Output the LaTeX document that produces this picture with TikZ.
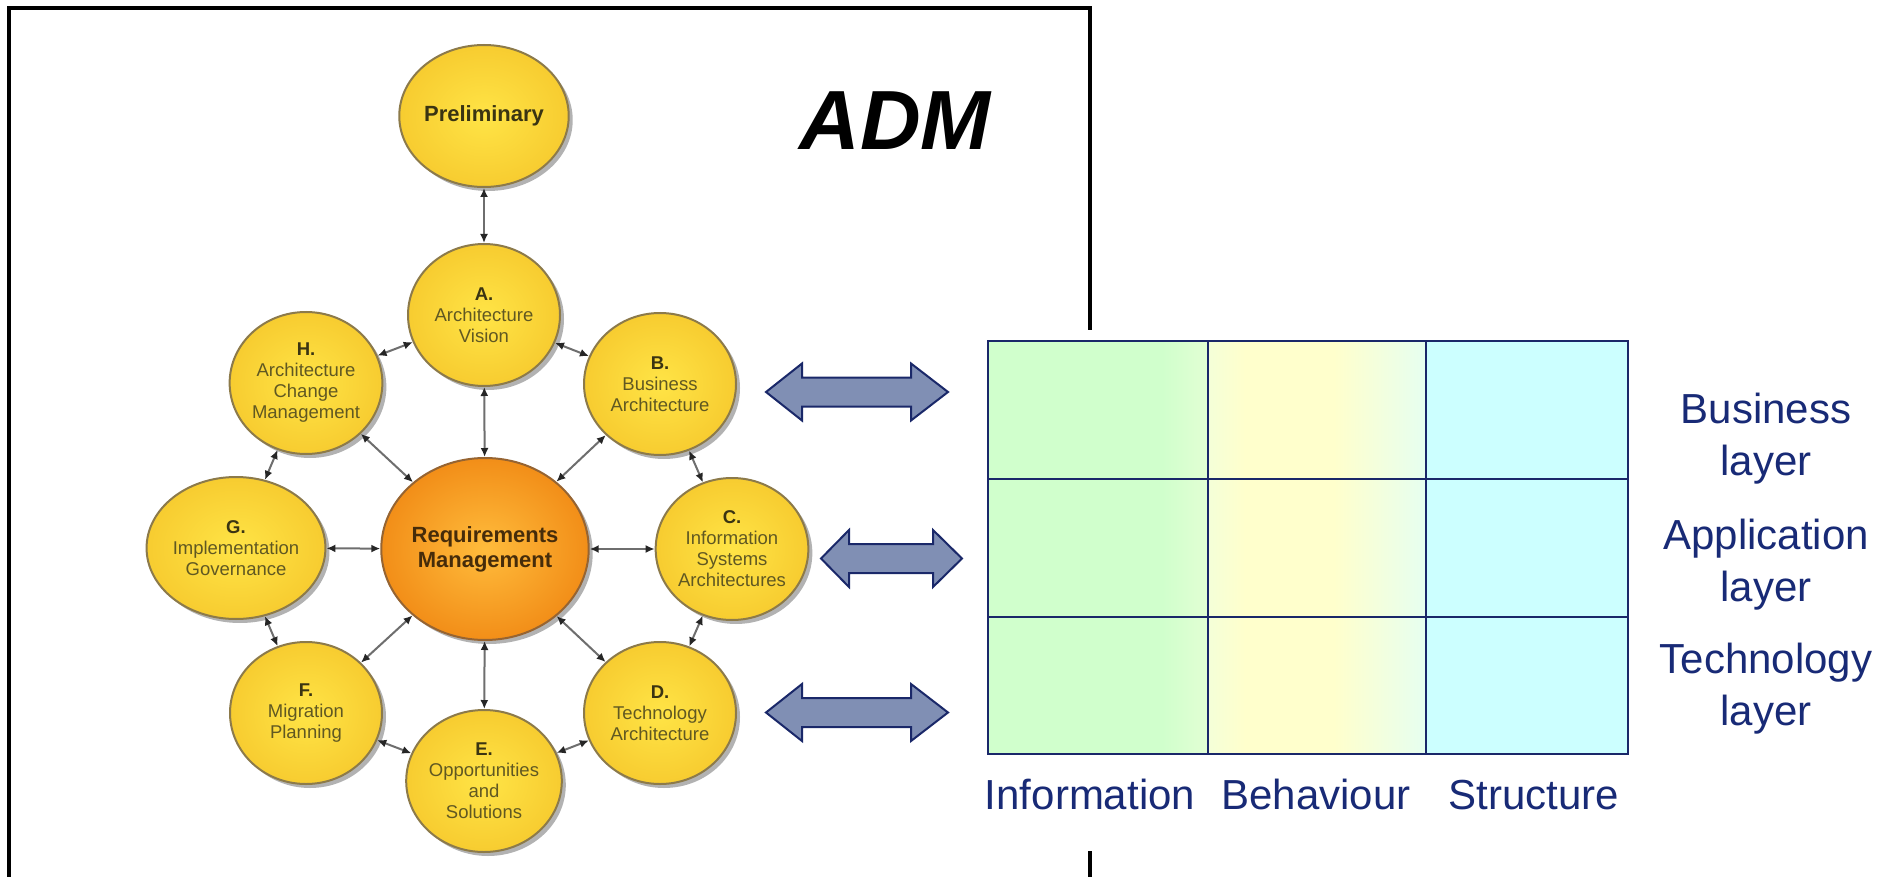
\documentclass[tikz,border=0pt]{standalone}
\usepackage{fontspec}
\setmainfont{Liberation Sans}
\usetikzlibrary{shapes.geometric,arrows.meta,shadows}
\definecolor{navy}{RGB}{24,42,118}
\definecolor{gridnavy}{RGB}{26,40,105}
\definecolor{arrfill}{RGB}{128,143,180}
\definecolor{yIn}{RGB}{255,228,70}
\definecolor{yOut}{RGB}{247,204,48}
\definecolor{yEdge}{RGB}{140,122,74}
\definecolor{oIn}{RGB}{255,188,60}
\definecolor{oOut}{RGB}{242,142,24}
\definecolor{oEdge}{RGB}{150,100,50}
\definecolor{olivetxt}{RGB}{96,88,34}
\definecolor{boldtxt}{RGB}{58,52,18}
\definecolor{rmtxt}{RGB}{70,44,10}
\definecolor{linegray}{RGB}{110,110,110}
\definecolor{cgreen}{RGB}{208,255,204}
\definecolor{cgreenL}{RGB}{226,255,212}
\definecolor{cyellow}{RGB}{255,255,204}
\definecolor{cyelL}{RGB}{244,255,216}
\definecolor{cyelR}{RGB}{230,255,240}
\definecolor{ccyan}{RGB}{204,255,255}
\begin{document}
\begin{tikzpicture}[x=1pt,y=-1pt,
  phase/.style={ellipse, draw=yEdge, line width=2pt, minimum width=152pt, minimum height=142pt,
    inner sep=0pt, inner color=yIn, outer color=yOut, align=center,
    font=\fontsize{18.5}{21}\selectfont, text=olivetxt,
    drop shadow={shadow xshift=4pt, shadow yshift=-4pt, opacity=0.3, fill=black}},
  reqm/.style={phase, draw=oEdge, minimum width=195pt, minimum height=182pt,
    inner color=oIn, outer color=oOut, text=rmtxt, font=\fontsize{22}{25}\selectfont\bfseries},
  conn/.style={draw=linegray, line width=2pt, <->, >={Latex[length=9pt,width=8pt,color=black!85]}},
  blockarr/.style={draw=gridnavy, line width=2pt, fill=arrfill, line join=miter},
  gridline/.style={draw=gridnavy, line width=2.8pt},
  lbl/.style={text=navy, font=\fontsize{42}{50}\selectfont, anchor=base, inner sep=0pt},
  frameline/.style={draw=black, line width=4pt}
]
\useasboundingbox (0,0) rectangle (1892,877);
\fill[white] (0,0) rectangle (1892,877);

% frame
\draw[frameline] (9,877) -- (9,8) -- (1090,8) -- (1090,330);
\draw[frameline] (1090,851) -- (1090,877);

% title
\node[anchor=base, inner sep=0pt, font=\fontsize{84}{90}\selectfont\bfseries\itshape] (adm) at (895,150) {ADM};

% phases
\node[phase, font=\fontsize{22}{25}\selectfont\bfseries, text=boldtxt] (P) at (484,116) {Preliminary};
\node[phase] (A) at (484,315) {\textcolor{boldtxt}{\bfseries A.}\\Architecture\\Vision};
\node[phase] (B) at (660,384) {\textcolor{boldtxt}{\bfseries B.}\\Business\\Architecture};
\node[phase] (C) at (732,549) {\textcolor{boldtxt}{\bfseries C.}\\Information\\Systems\\Architectures};
\node[phase] (D) at (660,713) {\textcolor{boldtxt}{\bfseries D.}\\Technology\\Architecture};
\node[phase] (E) at (484,781) {\textcolor{boldtxt}{\bfseries E.}\\Opportunities\\and\\Solutions};
\node[phase] (F) at (306,713) {\textcolor{boldtxt}{\bfseries F.}\\Migration\\Planning};
\node[phase] (G) at (236,548) {\textcolor{boldtxt}{\bfseries G.}\\Implementation\\Governance};
\node[phase] (H) at (306,383) {\textcolor{boldtxt}{\bfseries H.}\\Architecture\\Change\\Management};
\node[reqm] (R) at (485,549) {Requirements\\Management};

% connectors
\draw[conn] (P) -- (A);
\draw[conn] (A) -- (B);
\draw[conn] (B) -- (C);
\draw[conn] (C) -- (D);
\draw[conn] (D) -- (E);
\draw[conn] (E) -- (F);
\draw[conn] (F) -- (G);
\draw[conn] (G) -- (H);
\draw[conn] (H) -- (A);
\foreach \n in {A,B,C,D,E,F,G,H} { \draw[conn] (R) -- (\n); }

% block double arrows
\draw[blockarr] (766,392) -- (802,363.5) -- (802,377.5) -- (911,377.5) -- (911,363.5) -- (948,392)
  -- (911,420.5) -- (911,406.5) -- (802,406.5) -- (802,420.5) -- cycle;
\draw[blockarr] (821,558.5) -- (849,530) -- (849,544) -- (933,544) -- (933,530) -- (962,558.5)
  -- (933,587) -- (933,573) -- (849,573) -- (849,587) -- cycle;
\draw[blockarr] (766,712.5) -- (802,684) -- (802,698) -- (911,698) -- (911,684) -- (948,712.5)
  -- (911,741) -- (911,727) -- (802,727) -- (802,741) -- cycle;

% grid fills
\fill[cgreen] (988,341) rectangle (1163,754);
\shade[left color=cgreen, right color=cgreenL] (1162,341) rectangle (1208,754);
\shade[left color=cyelL, right color=cyellow] (1208,341) rectangle (1245,754);
\fill[cyellow] (1244,341) rectangle (1335,754);
\shade[left color=cyellow, right color=cyelR] (1334,341) rectangle (1426,754);
\fill[ccyan] (1426,341) rectangle (1628,754);
% grid lines
\draw[gridline] (988,341) rectangle (1628,754);
\draw[gridline] (1208,341) -- (1208,754);
\draw[gridline] (1426,341) -- (1426,754);
\draw[gridline] (988,479) -- (1628,479);
\draw[gridline] (988,617) -- (1628,617);

% column labels
\node[lbl] (info) at (1090,809.5) {Information};
\node[lbl] (behav) at (1316,809.5) {Behaviour};
\node[lbl] (struc) at (1534,809.5) {Structure};

% row labels
\node[lbl] (bus1) at (1766,423) {Business};
\node[lbl] (bus2) at (1766,475) {layer};
\node[lbl] (app1) at (1766,549) {Application};
\node[lbl] (app2) at (1766,601) {layer};
\node[lbl] (tec1) at (1766,673.5) {Technology};
\node[lbl] (tec2) at (1766,725) {layer};
\end{tikzpicture}
\end{document}
